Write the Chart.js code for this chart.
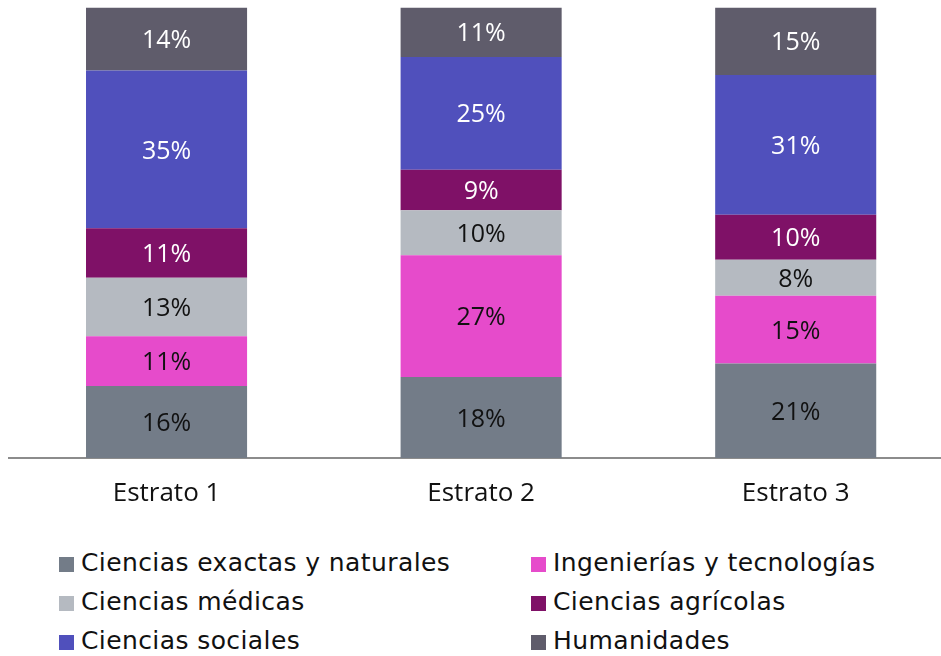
<!DOCTYPE html>
<html>
<head>
<meta charset="utf-8">
<script src="https://cdn.jsdelivr.net/npm/chart.js@4"></script>
<style>
  html, body { margin: 0; padding: 0; background: #fff; overflow: hidden; width: 941px; height: 656px; }
  #wrap { position: relative; width: 941px; height: 656px; overflow: hidden; }
  #chart { position: absolute; left: 0; top: 0; }
  #legend { position: absolute; left: 0; top: 0; font-family: 'DejaVu Sans', sans-serif; font-size: 25px; letter-spacing: 0.4px; color: #111; }
  .item { position: absolute; display: flex; align-items: center; white-space: nowrap; height: 30px; }
  .box { width: 15px; height: 15px; margin-right: 7px; flex: none; }
  .txt { position: relative; top: -2px; }
</style>
</head>
<body>
<div id="wrap">
  <canvas id="chart" width="953" height="520"></canvas>
  <div id="legend"></div>
</div>
<script>
const categories = ['Estrato 1', 'Estrato 2', 'Estrato 3'];
const seriesNames = ['Ciencias exactas y naturales', 'Ingenierías y tecnologías', 'Ciencias médicas',
                     'Ciencias agrícolas', 'Ciencias sociales', 'Humanidades'];
const exactas     = [16, 18, 21];
const ingenierias = [11, 27, 15];
const medicas     = [13, 10, 8];
const agricolas   = [11, 9, 10];
const sociales    = [35, 25, 31];
const humanidades = [14, 11, 15];

const colors = ['#737C88', '#E64BCB', '#B5BAC1', '#7F1167', '#5050BC', '#5F5C6B'];
const labelColors = ['#111', '#111', '#111', '#fff', '#fff', '#fff'];
const allSeries = [exactas, ingenierias, medicas, agricolas, sociales, humanidades];

const segLabels = {
    id: 'segLabels',
    afterDatasetsDraw(chart) {
        const ctx = chart.ctx;
        ctx.save();
        ctx.font = '25px "Open Sans"';
        ctx.textAlign = 'center';
        ctx.textBaseline = 'middle';
        chart.data.datasets.forEach((ds, i) => {
            chart.getDatasetMeta(i).data.forEach((bar, j) => {
                const p = bar.getProps(['x', 'y', 'base'], true);
                ctx.fillStyle = labelColors[i];
                ctx.fillText(ds.data[j] + '%', p.x, (p.y + p.base) / 2 + 2);
            });
        });
        ctx.restore();
    }
};

new Chart(document.getElementById('chart'), {
    type: 'bar',
    data: {
        labels: categories,
        datasets: allSeries.map((d, i) => ({
            label: seriesNames[i],
            data: d,
            backgroundColor: colors[i],
            borderWidth: 0,
            barPercentage: 1,
            categoryPercentage: 0.512
        }))
    },
    options: {
        responsive: false,
        animation: false,
        devicePixelRatio: 1,
        layout: { padding: { left: 9.25, right: 0, top: 7.5, bottom: 0 } },
        plugins: { legend: { display: false }, tooltip: { enabled: false } },
        scales: {
            x: {
                stacked: true,
                grid: { display: false, drawTicks: false },
                border: { display: true, color: '#8C8C8C', width: 2 },
                ticks: { color: '#111', font: { family: 'Open Sans', size: 26 }, padding: 20 },
                afterFit(scale) { scale.height = 62; }
            },
            y: { stacked: true, display: false, min: 0, max: 100 }
        }
    },
    plugins: [segLabels]
});

// legend in two columns, same order as the stack
const legend = document.getElementById('legend');
const colLeft = [59, 531];
const rowMid = [564, 603, 642];
seriesNames.forEach((name, i) => {
    const item = document.createElement('div');
    item.className = 'item';
    item.style.left = colLeft[i % 2] + 'px';
    item.style.top = (rowMid[Math.floor(i / 2)] - 15) + 'px';
    item.innerHTML = `<span class="box" style="background:${colors[i]}"></span><span class="txt">${name}</span>`;
    legend.appendChild(item);
});
</script>
</body>
</html>
